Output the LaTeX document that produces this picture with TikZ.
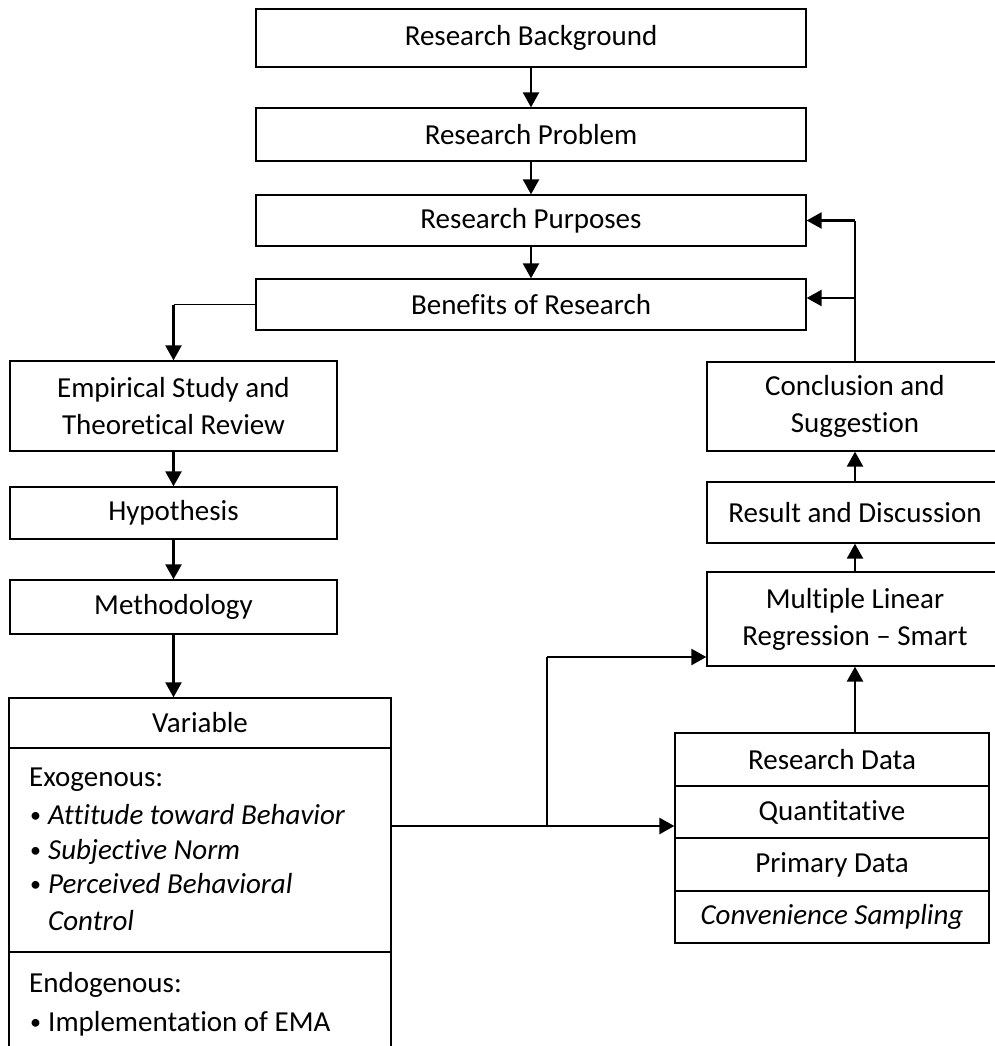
\documentclass[tikz,border=0pt]{standalone}
\usepackage{fontspec}
\setmainfont{Carlito}[Ligatures=NoCommon]
\usetikzlibrary{arrows.meta,calc}
\newcommand{\mybul}{\raisebox{2pt}{\fontsize{22}{22}\selectfont •}}
\begin{document}
\begin{tikzpicture}[x=1pt,y=-1pt,
 box/.style={draw,line width=1.3pt,inner sep=0pt,align=center,font=\fontsize{29}{37}\selectfont},
 arr/.style={line width=2.4pt,-{Triangle[length=15pt,width=16pt]}},
 thinln/.style={line width=1.1pt},
 lt/.style={anchor=base west,inner sep=0pt,font=\fontsize{29}{37}\selectfont},
]
\useasboundingbox (0,0) rectangle (995,1046);
\clip (0,0) rectangle (995,1046);

% top column
\node[box,minimum width=550pt,minimum height=58pt] (bg) at (531,38) {Research Background};
\node[box,minimum width=550pt,minimum height=53pt] (prob) at (531,134.5) {Research Problem};
\node[box,minimum width=550pt,minimum height=51pt] (purp) at (531,220.5) {Research Purposes};
\node[box,minimum width=550pt,minimum height=51pt] (ben) at (531,304.5) {Benefits of Research};

% left column
\node[box,minimum width=327pt,minimum height=90pt] (emp) at (173.5,406) {Empirical Study and\\Theoretical Review};
\node[box,minimum width=327pt,minimum height=52pt] (hyp) at (173.5,513) {Hypothesis};
\node[box,minimum width=327pt,minimum height=54pt] (meth) at (173.5,607) {Methodology};

\node[box,minimum width=382pt,minimum height=50pt] (varh) at (200,723) {Variable};
\node[box,minimum width=382pt,minimum height=204pt] (exo) at (200,850) {};
\node[box,minimum width=382pt,minimum height=116pt] (endo) at (200,1010) {};

\node[lt] (exot) at (29,786) {Exogenous:};
\node[lt] (b1) at (30,824) {\mybul};
\node[lt] (t1) at (48,824) {\itshape Attitude toward Behavior};
\node[lt] (b2) at (30,859) {\mybul};
\node[lt] (t2) at (48,859) {\itshape Subjective Norm};
\node[lt] (b3) at (30,893) {\mybul};
\node[lt] (t3) at (48,893) {\itshape Perceived Behavioral};
\node[lt] (t4) at (48,930) {\itshape Control};
\node[lt] (endt) at (29,992) {Endogenous:};
\node[lt] (b5) at (30,1031) {\mybul};
\node[lt] (t5) at (48,1031) {Implementation of EMA};

% right column
\node[box,minimum width=296pt,minimum height=89pt] (conc) at (855,406.5) {Conclusion and\\Suggestion};
\node[box,minimum width=296pt,minimum height=61pt] (res) at (855,512.5) {Result and Discussion};
\node[box,minimum width=296pt,minimum height=94pt] (mlr) at (855,619) {Multiple Linear\\Regression -- Smart};

\node[box,minimum width=314pt,minimum height=53pt] (rd) at (832,759.5) {Research Data};
\node[box,minimum width=314pt,minimum height=52pt] (qt) at (832,812) {Quantitative};
\node[box,minimum width=314pt,minimum height=53pt] (pd) at (832,864.5) {Primary Data};
\node[box,minimum width=314pt,minimum height=52pt] (cs) at (832,917) {\itshape Convenience Sampling};

% connectors
\draw[arr] (bg) -- (prob);
\draw[arr] (prob) -- (purp);
\draw[arr] (purp) -- (ben);

\coordinate (bl) at (ben.west -| emp.north);
\draw[thinln] (ben.west) -- (bl);
\draw[arr] (bl) -- (emp.north);
\draw[arr] (emp) -- (hyp);
\draw[arr] (hyp) -- (meth);
\draw[arr] (meth.south) -- (meth.south |- varh.north);

\coordinate (ylev) at (0,826);
\coordinate (br) at (547,826);
\coordinate (ml) at (547,657);
\draw[arr,line width=2.6pt] (exo.east |- ylev) -- (qt.west |- ylev);
\draw[thinln] (br) -- (ml);
\draw[arr] (ml) -- (ml -| mlr.west);

\draw[arr,line width=2.6pt] (rd.north -| mlr.south) -- (mlr.south);
\draw[arr] (mlr) -- (res);
\draw[arr] (res) -- (conc);

\coordinate (fb) at (conc.north |- purp.east);
\coordinate (fbb) at (855,298);
\draw[thinln] (conc.north) -- (fb);
\draw[arr] (fb) -- (purp.east);
\draw[arr] (fbb) -- (fbb -| ben.east);
\end{tikzpicture}
\end{document}
